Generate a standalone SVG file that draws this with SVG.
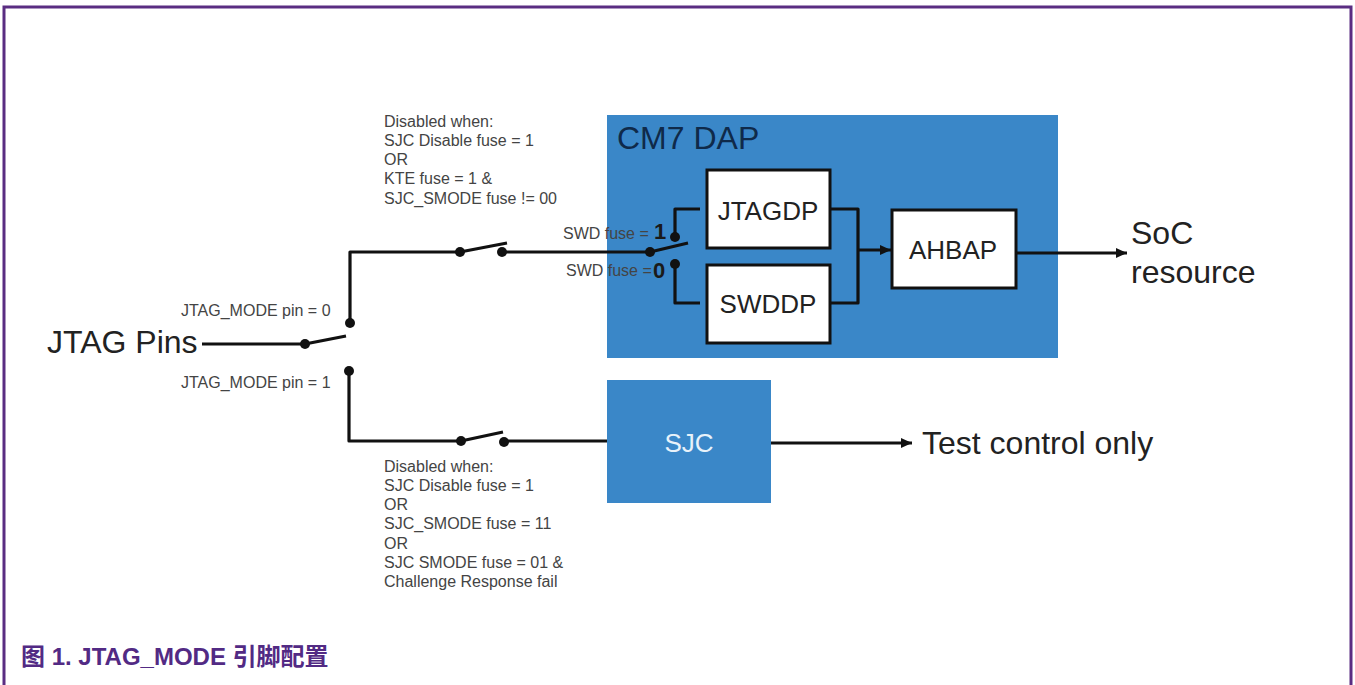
<svg xmlns="http://www.w3.org/2000/svg" width="1355" height="685" viewBox="0 0 1355 685">
<style>
text{font-family:"Liberation Sans",Arial,"Noto Sans CJK SC",sans-serif}
.s{font-size:16px;fill:#444}
.b{font-size:26px;fill:#222}
.l{font-size:32px;fill:#222}
.d{font-size:22px;font-weight:bold;fill:#1a1a1a}
.w{fill:none;stroke:#111;stroke-width:3.200;stroke-linejoin:round}
.box{fill:#fff;stroke:#111;stroke-width:3}
.blue{fill:#3a87c8}
</style>
<defs><marker id="a" markerUnits="userSpaceOnUse" markerWidth="12" markerHeight="12" refX="11" refY="6" orient="auto"><path d="M0 1L11 6L0 11Z" fill="#111"/></marker></defs>
<rect width="1355" height="685" fill="#fff"/>
<path d="M4 685V7H1351V685" fill="none" stroke="#5a2d82" stroke-width="3"/>
<g id="cm7dap"><rect class="blue" x="607" y="115" width="451" height="243"/><text x="617" y="149" font-size="32" fill="#0f2a4a">CM7 DAP</text></g>
<g id="jtagdp"><rect class="box" x="707" y="170" width="123" height="78"/><text class="b" x="768" y="220" text-anchor="middle">JTAGDP</text></g>
<g id="swddp"><rect class="box" x="707" y="265" width="123" height="78"/><text class="b" x="768" y="313" text-anchor="middle">SWDDP</text></g>
<g id="ahbap"><rect class="box" x="892" y="210" width="124" height="78"/><text class="b" x="953" y="259" text-anchor="middle">AHBAP</text></g>
<g id="sjc"><rect class="blue" x="607" y="380" width="164" height="123"/><text x="689" y="452" font-size="26" fill="#e8f2fa" text-anchor="middle">SJC</text></g>
<g id="connectors">
<path class="w" d="M202 344H305L346 336"/>
<path class="w" d="M350 323V252H460L507 243"/>
<path class="w" d="M502 252H650L688 243"/>
<path class="w" d="M349 370V441H461L503 432"/>
<path class="w" d="M504 441H607"/>
<path class="w" d="M675 237V209H700"/>
<path class="w" d="M675 264V303H700"/>
<path class="w" d="M830 209H858V303H830"/>
<path class="w" d="M858 250H891" marker-end="url(#a)"/>
<path class="w" d="M1016 253H1127" marker-end="url(#a)"/>
<path class="w" d="M771 443H912" marker-end="url(#a)"/>
<g fill="#111"><circle cx="305" cy="344" r="5"/><circle cx="350" cy="323" r="5"/><circle cx="349" cy="371" r="5"/><circle cx="460" cy="252" r="5"/><circle cx="502" cy="252" r="5"/><circle cx="461" cy="441" r="5"/><circle cx="504" cy="442" r="5"/><circle cx="650" cy="252" r="5"/><circle cx="675" cy="237" r="5"/><circle cx="675" cy="264" r="5"/></g>
</g>
<g id="labels">
<text x="47" y="353" font-size="32" fill="#222">JTAG Pins</text>
<text class="s" x="181" y="316">JTAG_MODE pin = 0</text>
<text class="s" x="181" y="388">JTAG_MODE pin = 1</text>
<text class="s" x="384" y="127">Disabled when:</text>
<text class="s" x="384" y="146">SJC Disable fuse = 1</text>
<text class="s" x="384" y="165">OR</text>
<text class="s" x="384" y="184">KTE fuse = 1 &amp;</text>
<text class="s" x="384" y="204">SJC_SMODE fuse != 00</text>
<text class="s" x="563" y="239">SWD fuse =</text>
<text class="d" x="654" y="239">1</text>
<text class="s" x="566" y="276">SWD fuse =</text>
<text class="d" x="653" y="278">0</text>
<text class="l" x="1131" y="244">SoC</text>
<text class="l" x="1131" y="283">resource</text>
<text class="l" x="922" y="454">Test control only</text>
<text class="s" x="384" y="472">Disabled when:</text>
<text class="s" x="384" y="491">SJC Disable fuse = 1</text>
<text class="s" x="384" y="510">OR</text>
<text class="s" x="384" y="529">SJC_SMODE fuse = 11</text>
<text class="s" x="384" y="549">OR</text>
<text class="s" x="384" y="568">SJC SMODE fuse = 01 &amp;</text>
<text class="s" x="384" y="587">Challenge Response fail</text>
<text x="21" y="665" font-size="24" font-weight="bold" fill="#522a84">图 1. JTAG_MODE 引脚配置</text>
</g>
</svg>
